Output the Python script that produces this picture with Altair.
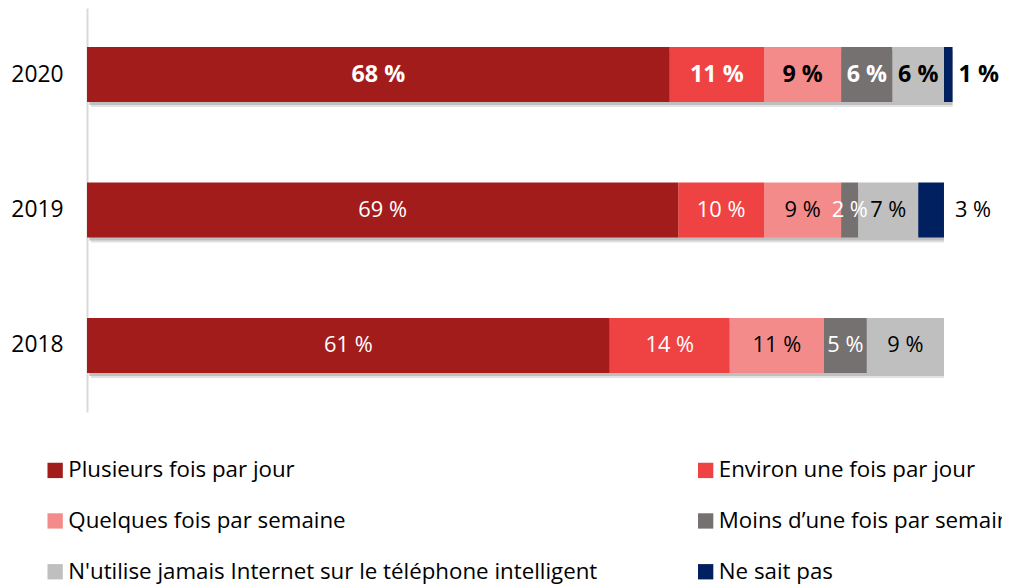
import altair as alt
import pandas as pd

years = ["2020", "2019", "2018"]
categories = [
    "Plusieurs fois par jour",
    "Environ une fois par jour",
    "Quelques fois par semaine",
    "Moins d’une fois par semaine",
    "N'utilise jamais Internet sur le téléphone intelligent",
    "Ne sait pas",
]
values_2020 = [68, 11, 9, 6, 6, 1]
values_2019 = [69, 10, 9, 2, 7, 3]
values_2018 = [61, 14, 11, 5, 9, 0]
colors = ["#A31C1C", "#EF4242", "#F48B8B", "#767171", "#BFBFBF", "#002060"]
text_colors = ["white", "white", "black", "white", "black", "black"]

values = {"2020": values_2020, "2019": values_2019, "2018": values_2018}

rows = []
for yr in years:
    start = 0
    for i, (c, v) in enumerate(zip(categories, values[yr])):
        if v == 0:
            continue
        rows.append(dict(year=yr, cat=c, value=v, start=start, end=start + v,
                         mid=start + v / 2, label=f"{v} %", tcolor=text_colors[i],
                         outside=(i == 5), bold=(yr == "2020")))
        start += v
df = pd.DataFrame(rows)
totals = df.groupby("year", as_index=False)["end"].max()
totals["zero"] = 0

# legend fills column-major (3 rows), so reorder to read row-major like the reference
legend_order = [0, 2, 4, 1, 3, 5]
leg_domain = [categories[i] for i in legend_order]
leg_range = [colors[i] for i in legend_order]

FONT = "Open Sans"

yenc = alt.Y("year:N", sort=years,
             scale=alt.Scale(paddingInner=0.594, paddingOuter=0.288),
             axis=alt.Axis(title=None, domainColor="#d9d9d9", domainWidth=2, ticks=False,
                           labelFontSize=22.8, labelPadding=24, labelColor="black",
                           labelFont=FONT))
xscale = alt.Scale(domain=[0, 106.77], nice=False, zero=True)

shadow1 = alt.Chart(totals).mark_bar(color="#cfcfcf", opacity=0.6, xOffset=4, yOffset=5).encode(
    x=alt.X("zero:Q", scale=xscale, axis=None), x2="end:Q", y=yenc)
shadow2 = alt.Chart(totals).mark_bar(color="#a8a8a8", opacity=0.6, xOffset=2, yOffset=3).encode(
    x=alt.X("zero:Q", scale=xscale, axis=None), x2="end:Q", y=yenc)

bars = alt.Chart(df).mark_bar().encode(
    x=alt.X("start:Q", scale=xscale, axis=None),
    x2="end:Q",
    y=yenc,
    color=alt.Color("cat:N", scale=alt.Scale(domain=leg_domain, range=leg_range),
                    legend=alt.Legend(title=None, orient="none", legendX=-43, legendY=451,
                                      columns=2, symbolType="square", symbolSize=235,
                                      symbolStrokeWidth=0, labelFontSize=22.3, labelFont=FONT,
                                      labelColor="black", rowPadding=27.8, columnPadding=96.5,
                                      gridAlign="all", labelLimit=1000, labelOffset=2)),
)


def text_layer(inside, bold):
    sub = df[(df["outside"] != inside) & (df["bold"] == bold)]
    mk = alt.Chart(sub).mark_text(
        fontSize=23.3 if bold else 21.8, font=FONT, fontWeight="bold" if bold else "normal",
        baseline="middle", align="center" if inside else "left",
        dx=0 if inside else (6 if bold else 11))
    return mk.encode(
        x=alt.X("mid:Q" if inside else "end:Q", scale=xscale, axis=None),
        y=yenc,
        text="label:N",
        color=alt.Color("tcolor:N", scale=None),
    )


chart = alt.layer(
    shadow1, shadow2, bars,
    text_layer(True, True), text_layer(True, False),
    text_layer(False, True), text_layer(False, False),
).resolve_scale(color="independent").properties(
    width=915, height=404,
    autosize=alt.AutoSizeParams(type="none"),
    padding={"left": 79, "top": 0, "right": 0, "bottom": 174},
).configure(font=FONT).configure_view(strokeWidth=0)

chart.save("out.html", embed_options={"renderer": "svg", "actions": False})
